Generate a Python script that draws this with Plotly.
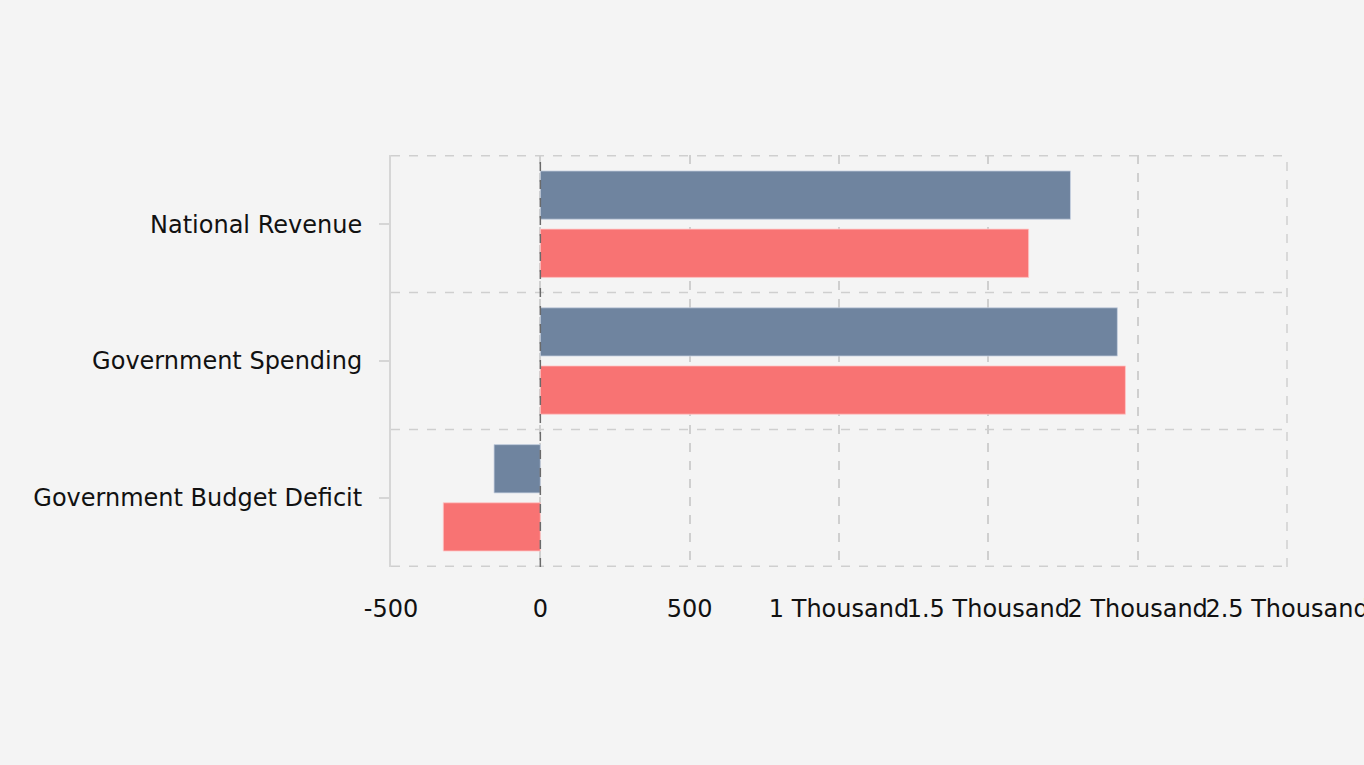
import plotly.graph_objects as go

categories = ["National Revenue", "Government Spending", "Government Budget Deficit"]
series_a_name = "Series A"
series_b_name = "Series B"
series_a = [1775, 1932, -155]
series_b = [1635, 1959, -325]

x_tickvals = [-500, 0, 500, 1000, 1500, 2000, 2500]
x_ticktext = ["-500", "0", "500", "1 Thousand", "1.5 Thousand", "2 Thousand", "2.5 Thousand"]

blue = "#6f849f"
red = "#f87373"
grid = "#cfcfcf"
bg = "#f4f4f4"

fig = go.Figure()
fig.add_trace(go.Bar(
    name=series_a_name, y=categories, x=series_a, orientation="h",
    marker=dict(color=blue, line=dict(color="rgba(200,210,225,0.8)", width=1)),
))
fig.add_trace(go.Bar(
    name=series_b_name, y=categories, x=series_b, orientation="h",
    marker=dict(color=red, line=dict(color="rgba(255,200,200,0.8)", width=1)),
))

# category boundary gridlines (dashed)
for b in [-0.5, 0.5, 1.5, 2.5]:
    fig.add_shape(type="line", xref="paper", x0=0, x1=1, yref="y", y0=b, y1=b,
                  line=dict(color=grid, width=1.5, dash="dash"), layer="below")
# right-edge gridline (dashed)
fig.add_shape(type="line", xref="paper", x0=1, x1=1, yref="paper", y0=0, y1=1,
              line=dict(color=grid, width=1.5, dash="dash"), layer="below")
# dashed zero line
fig.add_shape(type="line", xref="x", x0=0, x1=0, yref="paper", y0=0, y1=1,
              line=dict(color="#6a6a6a", width=1.5, dash="dash"), layer="above")

fig.update_layout(
    width=1364, height=765,
    paper_bgcolor=bg, plot_bgcolor=bg,
    margin=dict(l=391, r=77, t=155, b=198, autoexpand=False),
    barmode="group", bargap=0.15, bargroupgap=0.17,
    showlegend=False,
    font=dict(family="DejaVu Sans", size=24, color="#111111"),
    xaxis=dict(
        range=[-500, 2500], tickvals=x_tickvals, ticktext=x_ticktext,
        tickangle=0, ticklabeloverflow="allow",
        showgrid=True, gridcolor=grid, griddash="dash", gridwidth=1.5,
        zeroline=False, showline=False,
        ticks="outside", ticklen=20, tickcolor="rgba(0,0,0,0)",
        automargin=False,
    ),
    yaxis=dict(
        type="category", categoryorder="array", categoryarray=categories,
        autorange="reversed",
        showgrid=False, zeroline=False,
        showline=True, linecolor="#d6d6d6", linewidth=2,
        ticks="outside", ticklen=10, tickcolor="#d6d6d6", tickwidth=2,
        ticklabelstandoff=12,
        automargin=False,
    ),
)

fig.write_html(
    "out.html",
    config={"displayModeBar": False},
    post_script="document.body.style.margin='0';document.body.style.background='#f4f4f4';document.body.style.overflow='hidden';",
)
